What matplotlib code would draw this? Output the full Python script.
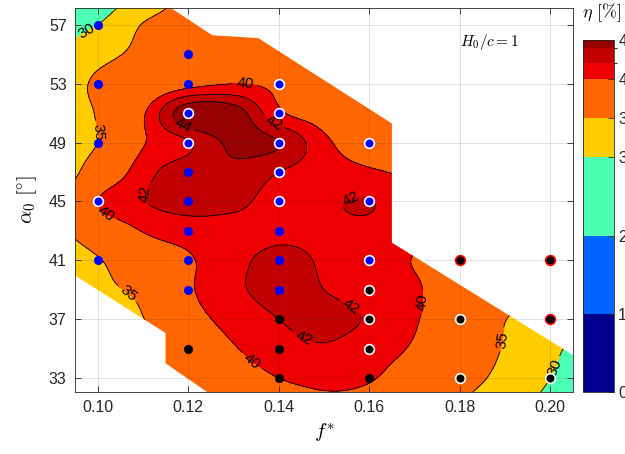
import numpy as np
import matplotlib
matplotlib.use("Agg")
import matplotlib.pyplot as plt
from matplotlib.colors import ListedColormap, BoundaryNorm
from matplotlib.patches import Polygon
import matplotlib as mpl

plt.rcParams['font.family'] = ['Liberation Sans', 'DejaVu Sans']
plt.rcParams['mathtext.fontset'] = 'cm'

# efficiency map on a coarse (f*, alpha0) grid, eta in percent
f_nodes = [0.09, 0.10, 0.11, 0.12, 0.13, 0.14, 0.15, 0.16, 0.17, 0.18, 0.19, 0.20, 0.21]
a_nodes = [59, 57, 55, 53, 51, 49, 47, 45, 43, 41, 39, 37, 35, 33, 31]
eta_grid = [
    [25.5, 27.0, 31.5, 36.0, 37.0, 37.5, 37.5, 37.0, 36.5, 36.0, 35.5, 35.0, 34.5],
    [28.0, 30.0, 35.2, 37.0, 38.0, 38.5, 38.5, 38.0, 37.5, 37.0, 36.5, 36.0, 35.5],
    [29.5, 33.5, 36.0, 37.5, 38.5, 39.0, 38.5, 38.0, 37.5, 37.0, 36.5, 36.0, 35.5],
    [31.5, 35.8, 37.5, 39.2, 40.0, 39.6, 39.0, 38.5, 38.0, 37.5, 37.0, 36.5, 36.0],
    [32.0, 35.3, 39.7, 45.5, 45.2, 40.4, 39.0, 37.8, 37.0, 36.5, 36.0, 35.5, 35.0],
    [33.0, 35.0, 39.8, 41.8, 44.5, 44.1, 40.5, 38.5, 37.5, 37.0, 36.5, 36.0, 35.5],
    [32.5, 37.0, 41.2, 43.0, 43.5, 42.0, 41.0, 40.3, 39.5, 38.5, 37.5, 36.5, 35.5],
    [33.5, 40.0, 41.9, 42.8, 42.5, 41.3, 41.7, 42.08, 40.5, 39.5, 38.0, 36.5, 35.0],
    [34.0, 37.5, 40.1, 41.0, 41.3, 41.6, 41.6, 41.5, 40.5, 39.5, 38.0, 36.5, 35.0],
    [32.0, 34.7, 37.8, 39.7, 41.5, 42.4, 41.8, 41.0, 39.9, 38.5, 37.5, 36.0, 35.0],
    [30.0, 34.0, 35.8, 39.6, 41.6, 42.5, 42.0, 41.2, 40.3, 38.3, 36.8, 35.3, 34.0],
    [29.0, 33.0, 34.9, 38.8, 40.8, 42.0, 42.5, 41.8, 40.2, 38.2, 35.1, 32.5, 30.5],
    [28.0, 32.0, 34.0, 37.5, 39.8, 41.2, 41.8, 41.0, 39.7, 37.5, 34.7, 31.0, 28.0],
    [27.0, 31.0, 33.0, 36.0, 38.5, 40.0, 40.5, 40.2, 38.5, 36.5, 33.8, 30.0, 27.0],
    [26.0, 30.0, 32.0, 34.5, 37.0, 38.5, 39.5, 39.0, 37.0, 35.0, 32.0, 28.5, 25.0],
]

# boundary of the tested region (f*, alpha0)
region_f = [0.09, 0.112, 0.1253, 0.1355, 0.165, 0.165, 0.2048, 0.21, 0.21, 0.129, 0.1242,
            0.115, 0.115, 0.0952, 0.09]
region_a = [59.0, 59.0, 56.3, 56.1, 50.3, 42.2, 34.6, 33.6, 31.0, 31.0, 32.05,
            34.0, 36.06, 39.93, 40.9]

# measurement points
pts_blue_f = [0.10, 0.10, 0.10, 0.10, 0.12, 0.12, 0.12, 0.12, 0.12, 0.12, 0.12, 0.14, 0.14, 0.14]
pts_blue_a = [57, 53, 49, 41, 55, 53, 47, 45, 43, 41, 39, 43, 41, 39]
pts_bluew_f = [0.10, 0.12, 0.12, 0.14, 0.14, 0.14, 0.14, 0.14, 0.16, 0.16, 0.16]
pts_bluew_a = [45, 51, 49, 53, 51, 49, 47, 45, 49, 45, 41]
pts_black_f = [0.12, 0.14, 0.14, 0.14, 0.16]
pts_black_a = [35, 37, 35, 33, 33]
pts_blackw_f = [0.16, 0.16, 0.16, 0.18, 0.18, 0.20]
pts_blackw_a = [39, 37, 35, 37, 33, 33]
pts_blackr_f = [0.18, 0.20, 0.20]
pts_blackr_a = [41, 41, 37]

levels = [0, 10, 20, 30, 35, 40, 42, 44, 45]
level_colors = ['#00008c', '#0066ff', '#4dffb3', '#ffcc00', '#ff6600',
                '#ee0000', '#c20000', '#960000']
line_levels = [30, 35, 40, 42, 44]


def catmull_rom_weights(n, t):
    """Weight matrix mapping n equally spaced samples to positions t (in index units)."""
    W = np.zeros((len(t), n))
    for k, tk in enumerate(t):
        i = int(np.floor(tk))
        i = min(max(i, 0), n - 2)
        u = tk - i
        w = [(-u**3 + 2*u**2 - u) / 2, (3*u**3 - 5*u**2 + 2) / 2,
             (-3*u**3 + 4*u**2 + u) / 2, (u**3 - u**2) / 2]
        for j, wj in zip(range(i - 1, i + 3), w):
            W[k, min(max(j, 0), n - 1)] += wj
    return W


fn = np.array(f_nodes)
an = np.array(a_nodes)[::-1]
Z0 = np.array(eta_grid)[::-1]
ff = np.linspace(fn[0], fn[-1], 361)
aa = np.linspace(an[0], an[-1], 421)
Wf = catmull_rom_weights(len(fn), (ff - fn[0]) / 0.01)
Wa = catmull_rom_weights(len(an), (aa - an[0]) / 2.0)
Z = Wa @ Z0 @ Wf.T
F, A = np.meshgrid(ff, aa)

fig = plt.figure(figsize=(6.25, 4.54), dpi=100)
ax = fig.add_axes([75 / 625, 62 / 454, 498 / 625, 384 / 454])
cax = fig.add_axes([583 / 625, 62 / 454, 31 / 625, 352 / 454])

cmap = ListedColormap(level_colors)
norm = BoundaryNorm(levels, cmap.N)

cf = ax.contourf(F, A, Z, levels=levels[:-1] + [60], colors=level_colors, zorder=1)
cl = ax.contour(F, A, Z, levels=line_levels, colors='k', linewidths=0.6, zorder=2)
clip = Polygon(np.column_stack([region_f, region_a]), closed=True,
               transform=ax.transData, facecolor='none', edgecolor='none')
ax.add_patch(clip)
cf.set_clip_path(clip)
cl.set_clip_path(clip)

label_pos = [(0.0975, 56.6), (0.100, 49.7), (0.1068, 38.8), (0.1899, 35.6), (0.2011, 33.7),
             (0.1326, 53.1), (0.1018, 44.2), (0.1337, 34.0), (0.1707, 38.2),
             (0.1392, 50.5), (0.1099, 45.6), (0.156, 45.1), (0.155, 37.4), (0.1458, 35.9),
             (0.119, 50.3)]
ax.clabel(cl, manual=label_pos, fmt='%d', fontsize=11, inline=True, inline_spacing=3)

ms = 6
ax.plot(pts_blue_f, pts_blue_a, 'o', color='#0000ff', ms=ms, mec='#0000ff', mew=0.5, zorder=4)
ax.plot(pts_bluew_f, pts_bluew_a, 'o', color='#0000ff', ms=ms + 1, mec='white', mew=1.2, zorder=4)
ax.plot(pts_black_f, pts_black_a, 'o', color='black', ms=ms, mec='black', mew=0.5, zorder=4)
ax.plot(pts_blackw_f, pts_blackw_a, 'o', color='black', ms=ms + 1, mec='white', mew=1.2, zorder=4)
ax.plot(pts_blackr_f, pts_blackr_a, 'o', color='black', ms=ms + 1, mec='red', mew=1.2, zorder=4)

ax.set_xlim(0.095, 0.205)
ax.set_ylim(32.05, 58.15)
ax.set_xticks([0.10, 0.12, 0.14, 0.16, 0.18, 0.20])
ax.set_xticklabels(['0.10', '0.12', '0.14', '0.16', '0.18', '0.20'])
ax.set_yticks([33, 37, 41, 45, 49, 53, 57])
ax.grid(True, color='#262626', alpha=0.15, linewidth=0.6, zorder=3)
ax.set_axisbelow(False)
ax.tick_params(direction='in', length=4, width=0.6, top=True, right=True,
               labelsize=11.5, colors='#262626', pad=6)
for sp in ax.spines.values():
    sp.set_color('#262626')
    sp.set_linewidth(0.6)
    sp.set_zorder(5)

ax.set_xlabel(r'$f^{*}$', fontsize=15, labelpad=4)
ax.set_ylabel(r'$\alpha_0\ [^{\circ}]$', fontsize=15, labelpad=7)
ax.text(0.193, 55.85, r'$H_0/c = 1$', fontsize=11, ha='right', va='center')

cb = mpl.colorbar.ColorbarBase(cax, cmap=cmap, norm=norm, boundaries=levels,
                               ticks=[0, 10, 20, 30, 35, 40, 45], spacing='proportional')
cb.outline.set_edgecolor('#262626')
cb.outline.set_linewidth(0.6)
cax.tick_params(direction='in', length=4, width=0.6, labelsize=11.5, colors='#262626', pad=3)
fig.text(0.962, 0.973, r'$\eta\ [\%]$', fontsize=13, ha='center', va='center')

fig.savefig('out.png', dpi=100)
